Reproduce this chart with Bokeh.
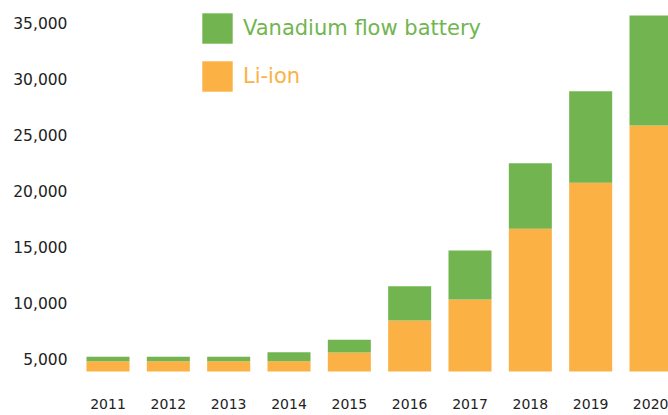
from bokeh.plotting import figure
from bokeh.models import Range1d, FixedTicker, NumeralTickFormatter, Legend, LegendItem, ColumnDataSource
from bokeh.embed import file_html
from bokeh.resources import INLINE

# ---- data ----
years = ["2011", "2012", "2013", "2014", "2015", "2016", "2017", "2018", "2019", "2020"]
li_ion = [4780, 4780, 4780, 4780, 5560, 8420, 10300, 16620, 20730, 25860]
vanadium = [410, 410, 410, 810, 1140, 3070, 4380, 5870, 8190, 9830]
baseline = 3870
y_ticks = [5000, 10000, 15000, 20000, 25000, 30000, 35000]

GREEN = "#72B550"
ORANGE = "#FBB143"
FONT = "DejaVu Sans"

idx = list(range(len(years)))
src = ColumnDataSource(dict(
    x=idx,
    base=[baseline] * len(years),
    li=li_ion,
    top=[a + b for a, b in zip(li_ion, vanadium)],
))

p = figure(width=668, height=415, output_backend="svg", toolbar_location=None,
           x_range=Range1d(-0.489, 9.290), y_range=Range1d(3150, 37029),
           min_border_left=78, min_border_right=0, min_border_top=0, min_border_bottom=36)
p.outline_line_color = None
p.background_fill_color = "white"
p.border_fill_color = "white"
p.grid.visible = False

r_li = p.vbar(x="x", bottom="base", top="li", width=0.713, source=src,
              fill_color=ORANGE, line_color=None)
r_va = p.vbar(x="x", bottom="li", top="top", width=0.713, source=src,
              fill_color=GREEN, line_color=None)

# axes
p.yaxis.ticker = FixedTicker(ticks=y_ticks)
p.yaxis.formatter = NumeralTickFormatter(format="0,0")
p.xaxis.ticker = FixedTicker(ticks=idx)
p.xaxis.major_label_overrides = {i: y for i, y in zip(idx, years)}
for ax in (p.xaxis, p.yaxis):
    ax.axis_line_color = None
    ax.major_tick_line_color = None
    ax.minor_tick_line_color = None
    ax.major_tick_out = 0
    ax.major_tick_in = 0
    ax.major_label_text_font = FONT
    ax.major_label_text_color = "#222222"
p.yaxis.major_label_text_font_size = "15.5px"
p.yaxis.major_label_standoff = 11
p.xaxis.major_label_text_font_size = "14px"
p.xaxis.major_label_standoff = 19

# legends (separate to allow per-item text colour)
def make_legend(label, renderer, color, loc):
    lg = Legend(items=[LegendItem(label=label, renderers=[renderer])], location=loc,
                glyph_width=38, glyph_height=38, label_standoff=7,
                label_text_font=FONT, label_text_font_size="21px", label_text_color=color,
                padding=0, margin=0, border_line_color=None, background_fill_alpha=0)
    p.add_layout(lg, "center")

make_legend("Vanadium flow battery", r_va, GREEN, (120, 332))
make_legend("Li-ion", r_li, ORANGE, (120, 284))

open("out.html", "w").write(file_html(p, INLINE))
